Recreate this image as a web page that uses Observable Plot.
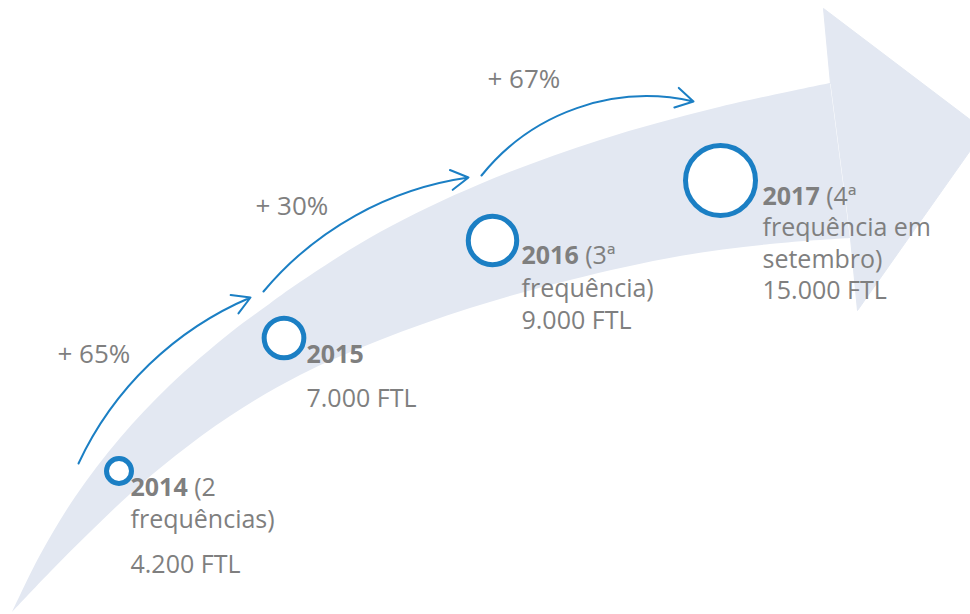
<!DOCTYPE html>
<html><head><meta charset="utf-8">
<script src="https://cdn.jsdelivr.net/npm/d3@7"></script>
<script src="https://cdn.jsdelivr.net/npm/@observablehq/plot@0.6"></script>
<style>html,body{margin:0;padding:0;background:#fff}</style>
</head><body><div id="chart"></div>
<script>
// ---- data ----
const years = ["2014", "2015", "2016", "2017"];
const ftl = [4200, 7000, 9000, 15000];
const ftlLabels = ["4.200 FTL", "7.000 FTL", "9.000 FTL", "15.000 FTL"];
const noteLines = [["(2", "frequências)"], [], ["(3ª", "frequência)"], ["(4ª", "frequência em", "setembro)"]];
const growth = ["+ 65%", "+ 30%", "+ 67%"];

// ---- layout (pixel positions of the infographic) ----
const W = 970, H = 614;
const circleX = [118.5, 283.5, 492, 720];
const circleY = [470.5, 337.5, 240, 180];
const labelX = [130, 306, 521, 762];
const labelBase = [495, 362, 263, 204];
const lineStep = [32, 32, 33, 31.5];
const ftlBase = [572, 406, 328, 298];
const growthLabelX = [57, 255, 487];
const growthLabelBase = [362, 214, 87];
const growthFrom = [[78, 463], [263, 291], [481, 175]];
const growthTo = [[250, 297], [468, 177], [693, 101]];
const growthBend = [21, 21, 32];
const bandUpper = [[12,612],[40,555],[75,497],[120,438],[170,385],[230,333],[265,307],[300,282],[380,232],[480,184],[600,140],[715,108],[830,83]];
const bandLower = [[12,612],[50,572],[90,532],[130,494],[175,456],[230,416],[300,375],[380,340],[470,308],[570,280],[680,256],[770,244],[850,238]];
const headOutline = [[830,83],[823,8],[984,130],[857,310],[850,238]];

const BLUE = "#1b7fc4", BAND = "#e3e8f2", GREY = "#7f7f7f";
const FONT = "Open Sans", FS = 25;

// ---- build tables ----
const ctx = document.createElement("canvas").getContext("2d");
function tw(s, weight) { ctx.font = `${weight} ${FS}px "${FONT}"`; return ctx.measureText(s).width; }

const dots = years.map((y, i) => ({year: y, value: ftl[i], x: circleX[i], y: circleY[i]}));
const band = bandUpper.map((u, i) => ({ux: u[0], uy: u[1], lx: bandLower[i][0], ly: bandLower[i][1]}));
const head = headOutline.map(([x, y]) => ({x, y}));
const arcs = growth.map((g, i) => ({x1: growthFrom[i][0], y1: growthFrom[i][1], x2: growthTo[i][0], y2: growthTo[i][1], bend: growthBend[i]}));
const growthText = growth.map((g, i) => ({text: g, x: growthLabelX[i], y: growthLabelBase[i]}));

const boldRows = [], normalRows = [];
years.forEach((yr, i) => {
  boldRows.push({text: yr, x: labelX[i], y: labelBase[i]});
  noteLines[i].forEach((line, j) => {
    const x = j === 0 ? labelX[i] + tw(yr, "bold") + tw(" ", "normal") : labelX[i];
    normalRows.push({text: line, x, y: labelBase[i] + j * lineStep[i]});
  });
  normalRows.push({text: ftlLabels[i], x: labelX[i], y: ftlBase[i]});
});

const chart = Plot.plot({
  width: W, height: H,
  margin: 0,
  style: {fontFamily: FONT, background: "#fff", overflow: "hidden"},
  x: {domain: [0, W], range: [0, W], axis: null},
  y: {domain: [0, H], range: [0, H], axis: null},
  r: {type: "sqrt", domain: [4200, 15000], range: [12.5, 35]},
  marks: [
    Plot.area(band, {x1: "lx", y1: "ly", x2: "ux", y2: "uy", fill: BAND, curve: "catmull-rom"}),
    Plot.line(head, {x: "x", y: "y", fill: BAND, stroke: BAND, strokeWidth: 1}),
    ...arcs.map(a => Plot.arrow([a], {x1: "x1", y1: "y1", x2: "x2", y2: "y2", bend: a.bend, stroke: BLUE, strokeWidth: 2, headLength: 15})),
    Plot.dot(dots, {x: "x", y: "y", r: "value", stroke: BLUE, strokeWidth: 5, fill: "#fff"}),
    Plot.text(growthText, {x: "x", y: "y", text: "text", textAnchor: "start", lineAnchor: "bottom", fontSize: 26, fill: GREY}),
    Plot.text(boldRows, {x: "x", y: "y", text: "text", textAnchor: "start", lineAnchor: "bottom", fontSize: FS, fontWeight: "bold", fill: GREY}),
    Plot.text(normalRows, {x: "x", y: "y", text: "text", textAnchor: "start", lineAnchor: "bottom", fontSize: FS, fill: GREY})
  ]
});
document.getElementById("chart").appendChild(chart);
</script></body></html>
